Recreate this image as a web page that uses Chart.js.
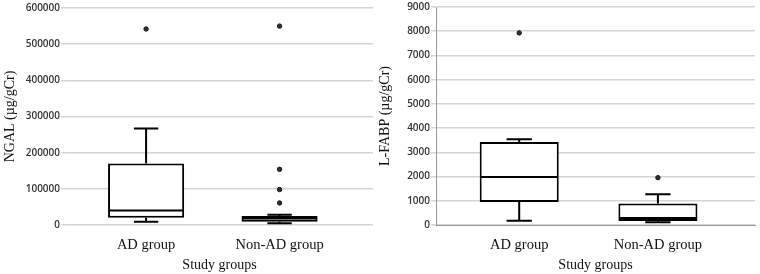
<!DOCTYPE html>
<html>
<head>
<meta charset="utf-8">
<script src="https://cdn.jsdelivr.net/npm/chart.js@4.4.1/dist/chart.umd.min.js"></script>
<style>
body { margin: 0; background: #fff; }
#wrap { position: relative; width: 760px; height: 274px; }
#left { position: absolute; left: 0; top: 0; }
#right { position: absolute; left: 378px; top: 0; }
</style>
</head>
<body>
<div id="wrap">
  <canvas id="left" width="378" height="274"></canvas>
  <canvas id="right" width="382" height="274"></canvas>
</div>
<script>
const groups = ['AD group', 'Non-AD group'];
const groupPos = [1, 2];

// NGAL (µg/gCr)
const ngalLow = [9000, 5000];
const ngalQ1 = [20000, 9000];
const ngalMedian = [40000, 18000];
const ngalQ3 = [170000, 25000];
const ngalHigh = [267000, 28000];
const ngalOutliers = [[542000], [550000, 154000, 98000, 61000]];

// L-FABP (µg/gCr)
const lfabpLow = [180, 110];
const lfabpQ1 = [945, 165];
const lfabpMedian = [1980, 290];
const lfabpQ3 = [3430, 890];
const lfabpHigh = [3540, 1270];
const lfabpOutliers = [[7930], [1955]];

const serif = 'Liberation Serif';

function boxChart(id, s) {
    const boxes = groupPos.map((x, i) => ({x: x, y: [s.q1[i], s.q3[i]]}));
    const dots = [];
    s.outliers.forEach((list, i) => list.forEach(v => dots.push({x: groupPos[i], y: v})));

    // whiskers, caps and median lines, placed with the chart's own scales
    const whiskers = {
        id: 'whiskers',
        afterDatasetsDraw(chart) {
            const ctx = chart.ctx;
            const y = chart.scales.y;
            const bars = chart.getDatasetMeta(0).data;
            ctx.save();
            ctx.strokeStyle = '#000';
            ctx.lineWidth = 2;
            bars.forEach((bar, i) => {
                const half = bar.width / 2;
                const cap = bar.width * 0.16;
                const yLow = y.getPixelForValue(s.low[i]);
                const yHigh = y.getPixelForValue(s.high[i]);
                const yQ1 = y.getPixelForValue(s.q1[i]);
                const yQ3 = y.getPixelForValue(s.q3[i]);
                const yMed = y.getPixelForValue(s.median[i]);
                ctx.beginPath();
                ctx.moveTo(bar.x, yQ3); ctx.lineTo(bar.x, yHigh);
                ctx.moveTo(bar.x - cap, yHigh); ctx.lineTo(bar.x + cap, yHigh);
                ctx.moveTo(bar.x, yQ1); ctx.lineTo(bar.x, yLow);
                ctx.moveTo(bar.x - cap, yLow); ctx.lineTo(bar.x + cap, yLow);
                ctx.moveTo(bar.x - half + 1, yMed); ctx.lineTo(bar.x + half - 1, yMed);
                ctx.stroke();
            });
            ctx.restore();
        }
    };

    new Chart(document.getElementById(id), {
        type: 'bar',
        data: {
            datasets: [{
                type: 'bar',
                data: boxes,
                backgroundColor: '#fff',
                borderColor: '#000',
                borderWidth: 2,
                borderSkipped: false,
                grouped: false,
                categoryPercentage: 1,
                barPercentage: 0.57
            }, {
                type: 'scatter',
                data: dots,
                pointRadius: 2.2,
                backgroundColor: '#333',
                borderColor: '#111',
                borderWidth: 1
            }]
        },
        options: {
            responsive: false,
            animation: false,
            layout: { padding: { top: s.padTop, right: s.padRight, left: 0, bottom: 0 } },
            plugins: { legend: { display: false }, tooltip: { enabled: false } },
            scales: {
                x: {
                    type: 'linear',
                    offset: false,
                    min: 0.4,
                    max: 2.7,
                    afterBuildTicks: sc => { sc.ticks = groupPos.map(v => ({value: v})); },
                    ticks: {
                        callback: v => groups[groupPos.indexOf(v)],
                        font: { family: serif, size: 14.5 },
                        color: '#111',
                        padding: 11,
                        autoSkip: false,
                        maxRotation: 0
                    },
                    grid: { display: false, drawTicks: false, offset: false },
                    border: { display: s.frame, color: '#999' },
                    title: {
                        display: true,
                        text: 'Study groups',
                        font: { family: serif, size: 14 },
                        color: '#111',
                        padding: { top: 0, bottom: 0 }
                    },
                    afterFit: sc => { sc.height = 49; }
                },
                y: {
                    min: 0,
                    max: s.max,
                    ticks: {
                        stepSize: s.step,
                        callback: v => String(v),
                        font: { family: 'Open Sans', size: 10, weight: '600' },
                        color: '#333',
                        padding: 1
                    },
                    grid: { color: '#d4d4d4', lineWidth: 1.5, tickLength: 5 },
                    border: { display: s.frame, color: '#999' },
                    title: {
                        display: true,
                        text: s.title,
                        font: { family: serif, size: 14, lineHeight: 1 },
                        color: '#111',
                        padding: { top: s.titlePad, bottom: 0 }
                    },
                    afterFit: sc => { sc.width = s.axisWidth; }
                }
            }
        },
        plugins: [whiskers]
    });
}

boxChart('left', {
    low: ngalLow, q1: ngalQ1, median: ngalMedian, q3: ngalQ3, high: ngalHigh,
    outliers: ngalOutliers, max: 600000, step: 100000, title: 'NGAL (µg/gCr)',
    axisWidth: 66, padTop: 8, padRight: 3, titlePad: 3, frame: false
});

boxChart('right', {
    low: lfabpLow, q1: lfabpQ1, median: lfabpMedian, q3: lfabpQ3, high: lfabpHigh,
    outliers: lfabpOutliers, max: 9000, step: 1000, title: 'L-FABP (µg/gCr)',
    axisWidth: 58, padTop: 6, padRight: 2, titlePad: 0, frame: true
});
</script>
</body>
</html>
